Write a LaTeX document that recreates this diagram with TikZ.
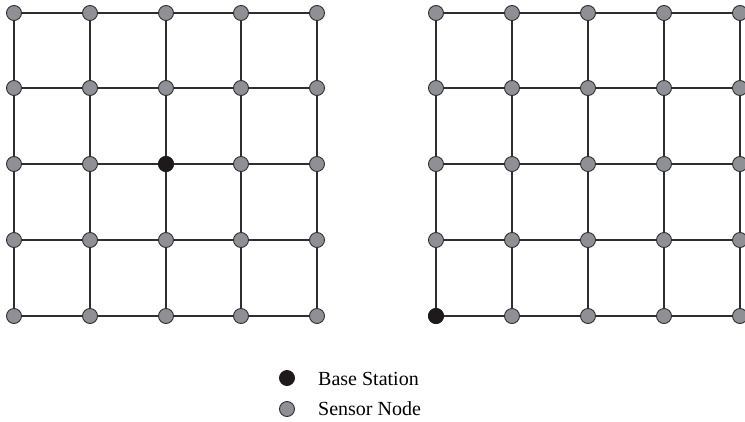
\documentclass[tikz,border=0pt]{standalone}
\usepackage{fontspec}
\setmainfont{Liberation Serif}
\definecolor{nodegray}{HTML}{8F9095}
\definecolor{edgegray}{HTML}{2E2E2E}
\definecolor{basecol}{HTML}{1E1A1B}
\tikzset{
  sensor/.style={circle, draw=edgegray, line width=0.9pt, fill=nodegray, minimum size=15pt, inner sep=0pt},
  base/.style={circle, draw=basecol, line width=0.9pt, fill=basecol, minimum size=15pt, inner sep=0pt},
  link/.style={draw=edgegray, line width=1.2pt},
  legend/.style={anchor=base west, inner sep=0pt, font=\fontsize{20}{24}\selectfont}
}
\begin{document}
\begin{tikzpicture}[x=1pt,y=1pt]
\useasboundingbox (0,0) rectangle (745,-421);
% left grid
\foreach \i/\x in {0/14,1/90,2/166,3/241,4/317}{
  \foreach \j/\y in {0/13,1/88,2/164,3/240,4/316}{
    \coordinate (Lc-\i-\j) at (\x,-\y);
  }
}
% right grid
\foreach \i/\x in {0/436,1/512,2/588,3/664,4/740}{
  \foreach \j/\y in {0/13,1/88,2/164,3/240,4/316}{
    \coordinate (Rc-\i-\j) at (\x,-\y);
  }
}
% edges
\foreach \g in {L,R}{
  \foreach \i in {0,...,4}{
    \draw[link] (\g c-\i-0) -- (\g c-\i-4);
    \draw[link] (\g c-0-\i) -- (\g c-4-\i);
  }
}
% nodes
\foreach \g in {L,R}{
  \foreach \i in {0,...,4}{
    \foreach \j in {0,...,4}{
      \node[sensor] (\g-\i-\j) at (\g c-\i-\j) {};
    }
  }
}
\node[base] (L-bs) at (Lc-2-2) {};
\node[base] (R-bs) at (Rc-0-4) {};
% legend
\node[base] (legbs) at (287,-378) {};
\node[sensor] (legsn) at (287,-409) {};
\node[legend] (legbstxt) at (318,-385) {Base Station};
\node[legend] (legsntxt) at (318,-415) {Sensor Node};
\end{tikzpicture}
\end{document}
